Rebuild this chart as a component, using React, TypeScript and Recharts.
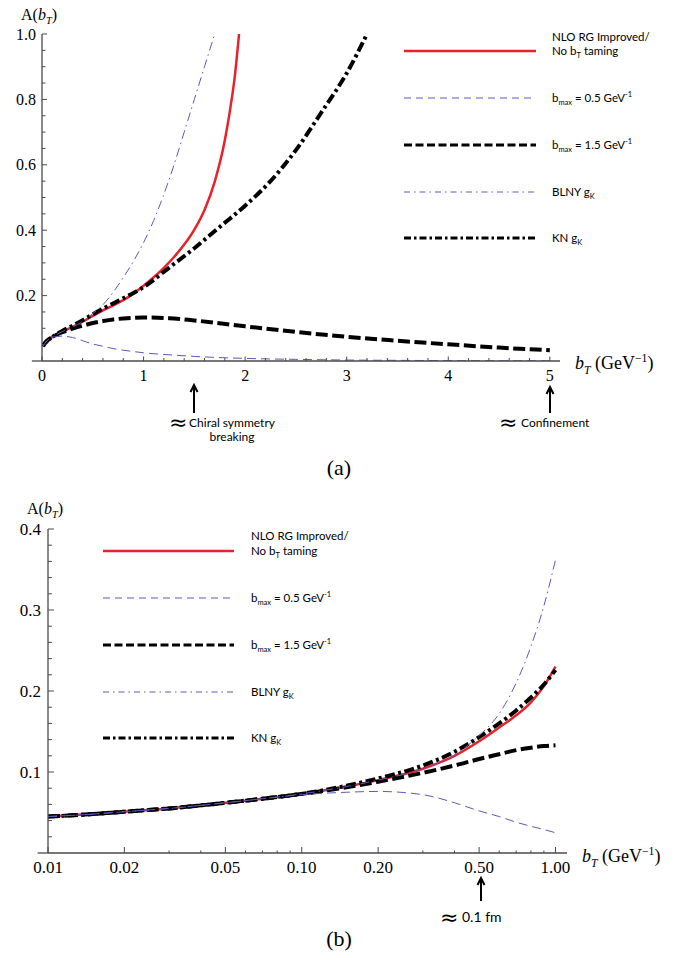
import React from 'react';
import { LineChart, Line, XAxis, YAxis, ReferenceLine } from 'recharts';

// b_T (GeV^-1) and A(b_T)
const RED_B = [0.01, 0.015, 0.02, 0.03, 0.05, 0.07, 0.1, 0.15, 0.2, 0.3, 0.4, 0.5, 0.6, 0.7, 0.8, 0.9, 1.0, 1.1, 1.2, 1.3, 1.4, 1.5, 1.6, 1.7, 1.8, 1.85, 1.9, 1.94];
const RED_A = [0.045, 0.048, 0.051, 0.055, 0.062, 0.067, 0.073, 0.082, 0.09, 0.104, 0.12, 0.138, 0.155, 0.17, 0.186, 0.206, 0.23, 0.256, 0.285, 0.318, 0.356, 0.402, 0.462, 0.548, 0.675, 0.765, 0.875, 1.0];

const BMAX05_B = [0.01, 0.015, 0.02, 0.03, 0.05, 0.07, 0.1, 0.15, 0.2, 0.3, 0.4, 0.5, 0.6, 0.7, 0.8, 0.9, 1.0, 1.25, 1.5, 2.0, 2.5, 3.0, 3.5, 4.0, 4.5, 5.0];
const BMAX05_A = [0.045, 0.048, 0.051, 0.055, 0.062, 0.067, 0.072, 0.075, 0.076, 0.072, 0.062, 0.052, 0.045, 0.038, 0.033, 0.029, 0.025, 0.019, 0.014, 0.008, 0.005, 0.003, 0.002, 0.0012, 0.0008, 0.0005];

const BMAX15_B = [0.01, 0.015, 0.02, 0.03, 0.05, 0.07, 0.1, 0.15, 0.2, 0.3, 0.4, 0.5, 0.6, 0.7, 0.8, 0.9, 1.0, 1.25, 1.5, 2.0, 2.5, 3.0, 3.5, 4.0, 4.5, 5.0];
const BMAX15_A = [0.045, 0.048, 0.051, 0.055, 0.062, 0.067, 0.073, 0.081, 0.088, 0.099, 0.108, 0.116, 0.122, 0.127, 0.13, 0.132, 0.133, 0.131, 0.124, 0.106, 0.089, 0.074, 0.062, 0.051, 0.041, 0.033];

const BLNY_B = [0.01, 0.015, 0.02, 0.03, 0.05, 0.07, 0.1, 0.15, 0.2, 0.3, 0.4, 0.5, 0.6, 0.7, 0.8, 0.9, 1.0, 1.1, 1.2, 1.3, 1.4, 1.5, 1.6, 1.7];
const BLNY_A = [0.045, 0.048, 0.051, 0.055, 0.062, 0.067, 0.073, 0.082, 0.09, 0.104, 0.121, 0.145, 0.172, 0.21, 0.255, 0.305, 0.362, 0.43, 0.51, 0.6, 0.7, 0.8, 0.9, 1.0];

const KN_B = [0.01, 0.015, 0.02, 0.03, 0.05, 0.07, 0.1, 0.15, 0.2, 0.3, 0.4, 0.5, 0.6, 0.7, 0.8, 0.9, 1.0, 1.25, 1.5, 1.75, 2.0, 2.25, 2.5, 2.75, 3.0, 3.2];
const KN_A = [0.045, 0.048, 0.051, 0.055, 0.062, 0.067, 0.073, 0.083, 0.092, 0.108, 0.125, 0.143, 0.16, 0.176, 0.192, 0.208, 0.226, 0.285, 0.345, 0.41, 0.475, 0.55, 0.645, 0.76, 0.88, 1.0];

// ticks
const TOP_X_TICKS = [0, 0.2, 0.4, 0.6, 0.8, 1, 1.2, 1.4, 1.6, 1.8, 2, 2.2, 2.4, 2.6, 2.8, 3, 3.2, 3.4, 3.6, 3.8, 4, 4.2, 4.4, 4.6, 4.8, 5];
const TOP_X_LABELS = [0, 1, 2, 3, 4, 5];
const TOP_Y_TICKS = [0.05, 0.1, 0.15, 0.2, 0.25, 0.3, 0.35, 0.4, 0.45, 0.5, 0.55, 0.6, 0.65, 0.7, 0.75, 0.8, 0.85, 0.9, 0.95, 1.0];
const TOP_Y_LABELS = [0.2, 0.4, 0.6, 0.8, 1.0];

const BOT_X_TICKS = [0.01, 0.02, 0.03, 0.04, 0.05, 0.06, 0.07, 0.08, 0.09, 0.1, 0.2, 0.3, 0.4, 0.5, 0.6, 0.7, 0.8, 0.9, 1.0];
const BOT_X_LABELS = [0.01, 0.02, 0.05, 0.1, 0.2, 0.5, 1.0];
const BOT_Y_TICKS = [0.02, 0.04, 0.06, 0.08, 0.1, 0.12, 0.14, 0.16, 0.18, 0.2, 0.22, 0.24, 0.26, 0.28, 0.3, 0.32, 0.34, 0.36, 0.38, 0.4];
const BOT_Y_LABELS = [0.1, 0.2, 0.3, 0.4];

const SERIF = '"Liberation Serif", "Times New Roman", serif';
const SANS = 'Lato, "Open Sans", sans-serif';
const AXIS_COLOR = '#4a4a4a';
const RED = '#e8212b';
const BLUE = '#5a5abf';

type Part = [string, ('sub' | 'sup' | null)?, boolean?];

const SERIES = [
  { key: 'red', b: RED_B, a: RED_A, color: RED, width: 2.5, dash: undefined, lWidth: 2.5, lDash: undefined },
  { key: 'bmax05', b: BMAX05_B, a: BMAX05_A, color: BLUE, width: 1, dash: '9 5', lWidth: 1, lDash: '7 5' },
  { key: 'bmax15', b: BMAX15_B, a: BMAX15_A, color: '#000', width: 4, dash: '12 4.5', lWidth: 3, lDash: '8 3.5' },
  { key: 'blny', b: BLNY_B, a: BLNY_A, color: BLUE, width: 1, dash: '9 4 1.5 4', lWidth: 1, lDash: '6 4 1.5 4' },
  { key: 'kn', b: KN_B, a: KN_A, color: '#000', width: 4, dash: '10 3.5 3 3.5', lWidth: 3, lDash: '7 3 2.5 3' },
];
// drawing order (red underneath, thin blue on top)
const DRAW_ORDER = ['red', 'bmax15', 'kn', 'bmax05', 'blny'];

const LEGEND_TEXT: Record<string, Part[][]> = {
  red: [[['NLO RG Improved/']], [['No b'], ['T', 'sub'], [' taming']]],
  bmax05: [[['b'], ['max', 'sub'], [' = 0.5 GeV'], ['-1', 'sup']]],
  bmax15: [[['b'], ['max', 'sub'], [' = 1.5 GeV'], ['-1', 'sup']]],
  blny: [[['BLNY g'], ['K', 'sub']]],
  kn: [[['KN g'], ['K', 'sub']]],
};

const pts = (b: number[], a: number[], maxB: number) =>
  b.map((x, i) => ({ x, y: a[i] })).filter((p) => p.x <= maxB + 1e-9);

const isIn = (list: number[], v: number) => list.some((m) => Math.abs(m - v) < 1e-9);

function Rich({ x, y, parts, size, family, anchor }: { x: number; y: number; parts: Part[]; size: number; family: string; anchor?: string }) {
  let shift = 0;
  return (
    <text x={x} y={y} fontFamily={family} fontSize={size} fill="#000" textAnchor={anchor || 'start'}>
      {parts.map(([t, k, it], i) => {
        const target = k === 'sub' ? size * 0.28 : k === 'sup' ? -size * 0.4 : 0;
        const dy = target - shift;
        shift = target;
        return (
          <tspan key={i} dy={dy} fontSize={k ? size * 0.65 : size} fontStyle={it ? 'italic' : 'normal'}>
            {t}
          </tspan>
        );
      })}
    </text>
  );
}

function xTick(labels: number[], fmt: (v: number) => string, fontSize: number, major: number, minor: number) {
  return (p: any) => {
    const v = p.payload.value;
    const big = isIn(labels, v);
    return (
      <g>
        <line x1={p.x} x2={p.x} y1={p.y} y2={p.y - (big ? major : minor)} stroke={AXIS_COLOR} strokeWidth={1} />
        {big && (
          <text x={p.x} y={p.y + 20} textAnchor="middle" fontFamily={SERIF} fontSize={fontSize} fill="#000">
            {fmt(v)}
          </text>
        )}
      </g>
    );
  };
}

function yTick(labels: number[], fmt: (v: number) => string, fontSize: number, major: number, minor: number, gap: number) {
  return (p: any) => {
    const v = p.payload.value;
    const big = isIn(labels, v);
    return (
      <g>
        <line x1={p.x} x2={p.x + (big ? major : minor)} y1={p.y} y2={p.y} stroke={AXIS_COLOR} strokeWidth={1} />
        {big && (
          <text x={p.x - gap} y={p.y + 5.5} textAnchor="end" fontFamily={SERIF} fontSize={fontSize} fill="#000">
            {fmt(v)}
          </text>
        )}
      </g>
    );
  };
}

function seriesLines(maxB: number) {
  return DRAW_ORDER.map((k) => {
    const s = SERIES.find((d) => d.key === k)!;
    return (
      <Line
        key={s.key}
        data={pts(s.b, s.a, maxB)}
        dataKey="y"
        type="monotone"
        stroke={s.color}
        strokeWidth={s.width}
        strokeDasharray={s.dash}
        dot={false}
        activeDot={false}
        isAnimationActive={false}
      />
    );
  });
}

function LegendBlock({ x0, x1, tx, ys, lead }: { x0: number; x1: number; tx: number; ys: number[]; lead: number }) {
  return (
    <g>
      {SERIES.map((s, i) => {
        const y = ys[i];
        const lines = LEGEND_TEXT[s.key];
        return (
          <g key={s.key}>
            <line x1={x0} x2={x1} y1={y} y2={y} stroke={s.color} strokeWidth={s.lWidth} strokeDasharray={s.lDash} />
            {lines.map((parts, j) => (
              <Rich key={j} x={tx} y={y + 4 - (lines.length - 1 - j) * lead} parts={parts} size={11.5} family={SANS} />
            ))}
          </g>
        );
      })}
    </g>
  );
}

function Arrow({ x, tip, end }: { x: number; tip: number; end: number }) {
  return (
    <g stroke="#000" fill="none" strokeWidth={2}>
      <line x1={x} x2={x} y1={tip + 1} y2={end} />
      <polyline points={`${x - 3.5},${tip + 7} ${x},${tip} ${x + 3.5},${tip + 7}`} />
    </g>
  );
}

const A_LABEL: Part[] = [['A('], ['b', null, true], ['T', 'sub', true], [')']];
const B_LABEL: Part[] = [['b', null, true], ['T', 'sub', true], [' (GeV'], ['\u22121', 'sup'], [')']];

export default function App() {
  return (
    <div style={{ position: 'absolute', left: 0, top: 0, width: 678, height: 965, background: '#fff' }}>
      {/* (a) linear */}
      <div style={{ position: 'absolute', left: 0, top: 0 }}>
        <LineChart width={678} height={400} margin={{ top: 34, right: 118, bottom: 0, left: 0 }}>
          <XAxis
            type="number"
            dataKey="x"
            domain={[0, 5.1]}
            allowDataOverflow
            ticks={TOP_X_TICKS}
            interval={0}
            height={39}
            tickSize={0}
            tickMargin={0}
            tickLine={false}
            axisLine={{ stroke: AXIS_COLOR, strokeWidth: 1.3 }}
            tick={xTick(TOP_X_LABELS, (v) => String(v), 16, 4.5, 3)}
          />
          <YAxis
            type="number"
            domain={[0, 1]}
            allowDataOverflow
            ticks={TOP_Y_TICKS}
            interval={0}
            width={42}
            tickSize={0}
            tickMargin={0}
            tickLine={false}
            axisLine={{ stroke: AXIS_COLOR, strokeWidth: 1.3 }}
            tick={yTick(TOP_Y_LABELS, (v) => v.toFixed(1), 16, 5, 3.5, 6)}
          />
          <ReferenceLine segment={[{ x: -0.1, y: 0 }, { x: 0, y: 0 }]} ifOverflow="visible" stroke={AXIS_COLOR} strokeWidth={1.3} />
          {seriesLines(5.1)}
        </LineChart>
      </div>

      {/* (b) log */}
      <div style={{ position: 'absolute', left: 0, top: 494 }}>
        <LineChart width={678} height={400} margin={{ top: 35, right: 111, bottom: 0, left: 0 }}>
          <XAxis
            type="number"
            dataKey="x"
            scale="log"
            domain={[0.01, 1.11]}
            allowDataOverflow
            ticks={BOT_X_TICKS}
            interval={0}
            height={41}
            tickSize={0}
            tickMargin={0}
            tickLine={false}
            axisLine={{ stroke: AXIS_COLOR, strokeWidth: 1.3 }}
            tick={xTick(BOT_X_LABELS, (v) => v.toFixed(2), 17, 6, 2.5)}
          />
          <YAxis
            type="number"
            domain={[0, 0.4]}
            allowDataOverflow
            ticks={BOT_Y_TICKS}
            interval={0}
            width={48}
            tickSize={0}
            tickMargin={0}
            tickLine={false}
            axisLine={{ stroke: AXIS_COLOR, strokeWidth: 1.3 }}
            tick={yTick(BOT_Y_LABELS, (v) => v.toFixed(1), 17, 6, 4, 7)}
          />
          <ReferenceLine segment={[{ x: 0.0091, y: 0 }, { x: 0.01, y: 0 }]} ifOverflow="visible" stroke={AXIS_COLOR} strokeWidth={1.3} />
          {seriesLines(1.0)}
        </LineChart>
      </div>

      {/* labels, legends and notes */}
      <svg width={678} height={965} style={{ position: 'absolute', left: 0, top: 0, pointerEvents: 'none' }}>
        <Rich x={21} y={20} parts={A_LABEL} size={16} family={SERIF} />
        <Rich x={575} y={369} parts={B_LABEL} size={18} family={SERIF} />
        <LegendBlock x0={404} x1={536} tx={552} ys={[51, 98, 145, 192, 238]} lead={14} />

        <Arrow x={194} tip={385} end={413} />
        <text x={169} y={430} fontFamily="DejaVu Sans" fontSize={22}>{'\u2248'}</text>
        <text x={232} y={427} textAnchor="middle" fontFamily={SANS} fontSize={12}>Chiral symmetry</text>
        <text x={232} y={441} textAnchor="middle" fontFamily={SANS} fontSize={12}>breaking</text>

        <Arrow x={550} tip={387} end={413} />
        <text x={499} y={430} fontFamily="DejaVu Sans" fontSize={22}>{'\u2248'}</text>
        <text x={521} y={427} fontFamily={SANS} fontSize={12}>Confinement</text>

        <text x={339} y={475} textAnchor="middle" fontFamily={SERIF} fontSize={22}>(a)</text>

        <Rich x={27} y={514} parts={A_LABEL} size={16} family={SERIF} />
        <Rich x={582} y={862} parts={B_LABEL} size={18} family={SERIF} />
        <LegendBlock x0={103} x1={234} tx={251} ys={[551, 598, 645, 692, 738]} lead={15} />

        <Arrow x={481} tip={878} end={901} />
        <text x={440} y={925} fontFamily="DejaVu Sans" fontSize={22}>{'\u2248'}</text>
        <text x={462} y={922} fontFamily={SANS} fontSize={14}>0.1 fm</text>

        <text x={339} y={946} textAnchor="middle" fontFamily={SERIF} fontSize={22}>(b)</text>
      </svg>
    </div>
  );
}
